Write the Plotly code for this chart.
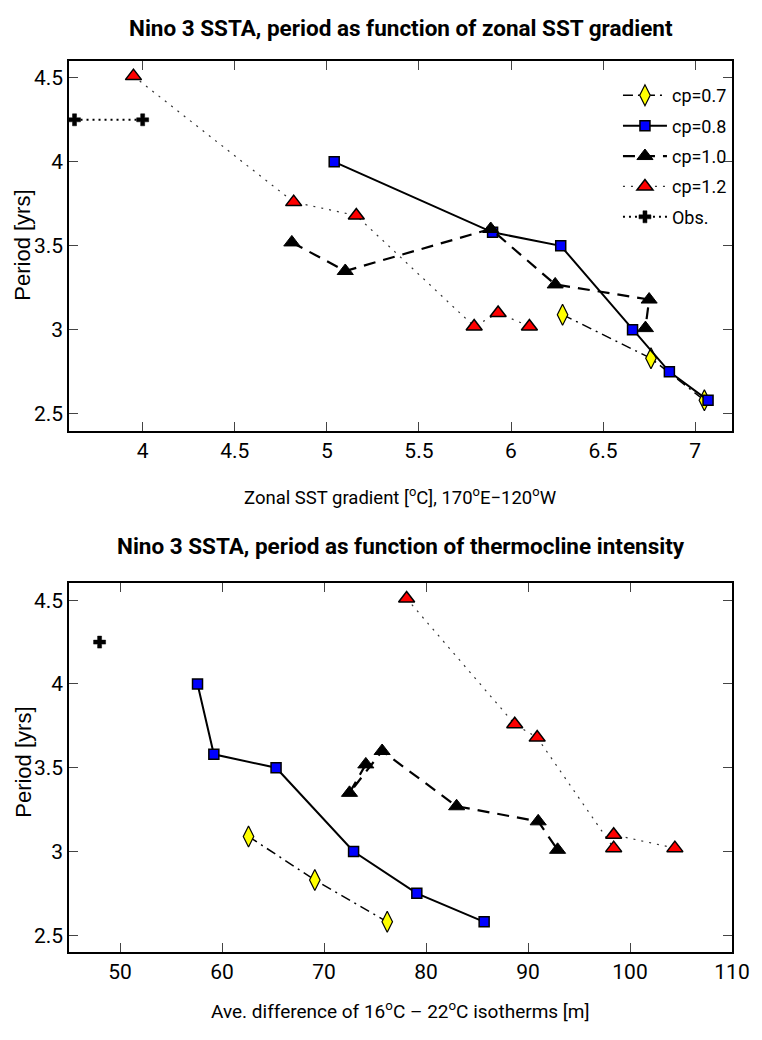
import plotly.graph_objects as go

# ---------------- data ----------------
# Top panel: period vs zonal SST gradient (deg C)
cp07_grad = [6.28, 6.76, 7.05]
cp07_period = [3.09, 2.83, 2.58]
cp08_grad = [5.04, 5.90, 6.27, 6.66, 6.86, 7.07]
cp08_period = [4.00, 3.58, 3.50, 3.00, 2.75, 2.58]
cp10_grad = [4.81, 5.10, 5.89, 6.24, 6.75, 6.73]
cp10_period = [3.52, 3.35, 3.60, 3.27, 3.18, 3.01]
cp12_grad = [3.95, 4.82, 5.16, 5.80, 5.93, 6.10]
cp12_period = [4.51, 3.76, 3.68, 3.02, 3.10, 3.02]
obs_grad = [3.63, 4.00]
obs_period = [4.25, 4.25]

# Bottom panel: period vs ave. difference of 16C-22C isotherms (m)
cp07_iso = [62.6, 69.1, 76.2]
cp08_iso = [57.6, 59.2, 65.3, 72.9, 79.1, 85.7]
cp10_iso = [74.1, 72.5, 75.7, 83.0, 91.0, 92.9]
cp12_iso = [78.1, 88.7, 90.9, 98.4, 98.4, 104.4]
obs_iso = [48.0]
obs_iso_period = [4.25]

series_names = ["cp=0.7", "cp=0.8", "cp=1.0", "cp=1.2", "Obs."]

top_x_ticks = [4, 4.5, 5, 5.5, 6, 6.5, 7]
top_x_labels = ["4", "4.5", "5", "5.5", "6", "6.5", "7"]
bot_x_ticks = [50, 60, 70, 80, 90, 100, 110]
bot_x_labels = ["50", "60", "70", "80", "90", "100", "110"]
y_ticks = [2.5, 3, 3.5, 4, 4.5]
y_labels = ["2.5", "3", "3.5", "4", "4.5"]

# ---------------- styles ----------------
NARROW = "Liberation Sans Narrow, Roboto, sans-serif"
REG = "Liberation Sans, Arial, sans-serif"

styles = [
    dict(line=dict(color="black", width=1.5, dash="10px,5px,2px,5px"),
         marker=dict(symbol="diamond-tall", size=15, color="#ffff00",
                     line=dict(color="black", width=1.2))),
    dict(line=dict(color="black", width=2),
         marker=dict(symbol="square", size=10, color="#0000ff",
                     line=dict(color="black", width=1.5))),
    dict(line=dict(color="black", width=2.2, dash="12px,8px"),
         marker=dict(symbol="triangle-up", size=14, color="black",
                     line=dict(color="black", width=1))),
    dict(line=dict(color="#333333", width=1.2, dash="2px,6px"),
         marker=dict(symbol="triangle-up", size=14, color="#ff0000",
                     line=dict(color="black", width=1.5))),
    dict(line=dict(color="black", width=2, dash="2px,4px"),
         marker=dict(symbol="cross", size=10, color="black",
                     line=dict(color="black", width=0.5))),
]

top_data = [(cp07_grad, cp07_period), (cp08_grad, cp08_period),
            (cp10_grad, cp10_period), (cp12_grad, cp12_period),
            (obs_grad, obs_period)]
bot_data = [(cp07_iso, cp07_period), (cp08_iso, cp08_period),
            (cp10_iso, cp10_period), (cp12_iso, cp12_period),
            (obs_iso, obs_iso_period)]

fig = go.Figure()
for i, (name, (xs, ys)) in enumerate(zip(series_names, top_data)):
    fig.add_trace(go.Scatter(x=xs, y=ys, name=name, mode="lines+markers",
                             legendgroup=name, showlegend=True,
                             xaxis="x", yaxis="y", cliponaxis=False, **styles[i]))
for i, (name, (xs, ys)) in enumerate(zip(series_names, bot_data)):
    fig.add_trace(go.Scatter(x=xs, y=ys, name=name, mode="lines+markers",
                             legendgroup=name, showlegend=False,
                             xaxis="x2", yaxis="y2", cliponaxis=False, **styles[i]))

axis_common = dict(showline=True, linecolor="black", linewidth=1.5, mirror="allticks",
                   ticks="inside", ticklen=9, tickwidth=1, tickcolor="#444444",
                   showgrid=False, zeroline=False,
                   tickfont=dict(family=NARROW, size=21, color="black"))

fig.update_layout(
    width=762, height=1040,
    margin=dict(l=69, r=20, t=61, b=88),
    paper_bgcolor="white", plot_bgcolor="white",
    xaxis=dict(domain=[0, 1], anchor="y", range=[3.6, 7.2],
               tickvals=top_x_ticks, ticktext=top_x_labels, **axis_common),
    yaxis=dict(domain=[0.5852, 1], anchor="x", range=[2.4, 4.6],
               tickvals=y_ticks, ticktext=y_labels, **axis_common),
    xaxis2=dict(domain=[0, 1], anchor="y2", range=[45, 110],
                tickvals=bot_x_ticks, ticktext=bot_x_labels, **axis_common),
    yaxis2=dict(domain=[0, 0.4136], anchor="x2", range=[2.4, 4.6],
                tickvals=y_ticks, ticktext=y_labels, **axis_common),
    legend=dict(x=0.828, y=0.982, xanchor="left", yanchor="top",
                bgcolor="rgba(0,0,0,0)", borderwidth=0,
                font=dict(family=NARROW, size=18, color="black"),
                tracegroupgap=4, itemwidth=44),
    showlegend=True,
)

annotations = [
    dict(text="<b>Nino 3 SSTA, period as function of zonal SST gradient</b>",
         x=0.5, y=1.037, font=dict(family=NARROW, size=22.5, color="black")),
    dict(text="<b>Nino 3 SSTA, period as function of thermocline intensity</b>",
         x=0.5, y=0.4557, font=dict(family=NARROW, size=22.5, color="black")),
    dict(text="Zonal SST gradient [<sup>o</sup>C], 170<sup>o</sup>E\u2212120<sup>o</sup>W",
         x=0.5, y=0.5107, font=dict(family=NARROW, size=18.5, color="black")),
    dict(text="Ave. difference of 16<sup>o</sup>C \u2013 22<sup>o</sup>C isotherms [m]",
         x=0.5, y=-0.0651, font=dict(family=NARROW, size=19, color="black")),
    dict(text="Period [yrs]", x=-0.0698, y=0.7935, textangle=-90,
         font=dict(family=REG, size=22, color="black")),
    dict(text="Period [yrs]", x=-0.0698, y=0.2132, textangle=-90,
         font=dict(family=REG, size=22, color="black")),
]
for a in annotations:
    a.update(xref="paper", yref="paper", showarrow=False,
             xanchor="center", yanchor="middle")
fig.update_layout(annotations=annotations)

fig.write_html("out.html")
